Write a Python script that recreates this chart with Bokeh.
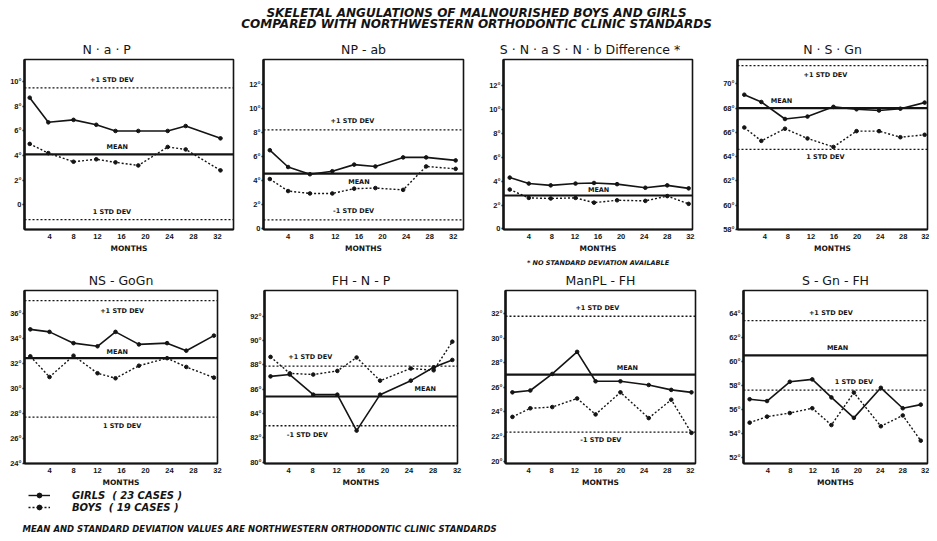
from bokeh.plotting import figure
from bokeh.models import Range1d, FixedTicker, Span, Label, Title, Legend, LegendItem
from bokeh.layouts import column, row
from bokeh.embed import file_html
from bokeh.resources import INLINE

INK = "#141414"
SANS = "DejaVu Sans"
TICKF = "Liberation Sans"

MAIN_TITLE_1 = "SKELETAL ANGULATIONS OF MALNOURISHED BOYS AND GIRLS"
MAIN_TITLE_2 = "COMPARED WITH NORTHWESTERN ORTHODONTIC CLINIC STANDARDS"
FOOTNOTE = "MEAN AND STANDARD DEVIATION VALUES ARE NORTHWESTERN ORTHODONTIC CLINIC STANDARDS"
NOTE_SNA = "* NO STANDARD DEVIATION AVAILABLE"
GIRLS_LABEL = "GIRLS  ( 23 CASES )"
BOYS_LABEL = "BOYS  ( 19 CASES )"
X_LABEL = "MONTHS"
MONTH_TICKS = [4, 8, 12, 16, 20, 24, 28, 32]

# ---- N-a-P
NAP_TITLE = "N · a · P"
NAP_MONTHS = [0.7, 3.8, 8.0, 11.8, 15.0, 18.8, 23.7, 26.7, 32.5]
NAP_GIRLS = [8.7, 6.7, 6.9, 6.5, 6.0, 6.0, 6.0, 6.4, 5.4]
NAP_BOYS = [4.95, 4.2, 3.5, 3.7, 3.45, 3.2, 4.7, 4.5, 2.8]
NAP_MEAN, NAP_SD_HI, NAP_SD_LO = 4.1, 9.5, -1.2
NAP_YTICKS = [0, 2, 4, 6, 8, 10]

# ---- NP-ab
NPAB_TITLE = "NP - ab"
NPAB_MONTHS = [0.9, 4.0, 7.7, 11.5, 15.2, 18.8, 23.5, 27.4, 32.4]
NPAB_GIRLS = [6.5, 5.1, 4.5, 4.75, 5.3, 5.15, 5.9, 5.9, 5.65]
NPAB_BOYS = [4.1, 3.1, 2.9, 2.9, 3.3, 3.35, 3.2, 5.15, 4.95]
NPAB_MEAN, NPAB_SD_HI, NPAB_SD_LO = 4.55, 8.2, 0.7
NPAB_YTICKS = [0, 2, 4, 6, 8, 10, 12]

# ---- SNa-SNb difference
SNAB_TITLE = "S · N · a   S · N · b   Difference *"
SNAB_MONTHS = [0.7, 4.0, 7.8, 12.1, 15.3, 19.3, 24.2, 28.0, 31.7]
SNAB_GIRLS = [4.3, 3.8, 3.65, 3.8, 3.85, 3.75, 3.45, 3.65, 3.4]
SNAB_BOYS = [3.3, 2.6, 2.55, 2.6, 2.2, 2.4, 2.35, 2.75, 2.1]
SNAB_MEAN = 2.8
SNAB_YTICKS = [0, 2, 4, 6, 8, 10, 12]

# ---- N-S-Gn
NSGN_TITLE = "N · S · Gn"
NSGN_MONTHS = [0.45, 3.4, 7.5, 11.4, 15.9, 19.9, 23.8, 27.5, 31.7]
NSGN_GIRLS = [69.1, 68.5, 67.1, 67.3, 68.1, 67.9, 67.8, 67.95, 68.45]
NSGN_BOYS = [66.4, 65.3, 66.3, 65.5, 64.8, 66.1, 66.1, 65.6, 65.8]
NSGN_MEAN, NSGN_SD_HI, NSGN_SD_LO = 68.0, 71.5, 64.6
NSGN_YTICKS = [58, 60, 62, 64, 66, 68, 70]

# ---- NS-GoGn
NSGO_TITLE = "NS - GoGn"
NSGO_MONTHS = [0.8, 4.0, 8.0, 12.0, 15.0, 18.9, 23.6, 26.8, 31.4]
NSGO_GIRLS = [34.7, 34.5, 33.6, 33.35, 34.5, 33.5, 33.6, 33.0, 34.2]
NSGO_BOYS = [32.55, 30.9, 32.6, 31.2, 30.8, 31.8, 32.4, 31.7, 30.85]
NSGO_MEAN, NSGO_SD_HI, NSGO_SD_LO = 32.4, 37.0, 27.7
NSGO_YTICKS = [24, 26, 28, 30, 32, 34, 36]

# ---- FH-N-P
FHNP_TITLE = "FH - N - P"
FHNP_MONTHS = [1.0, 4.2, 8.1, 12.1, 15.3, 19.2, 24.3, 28.1, 31.2]
FHNP_GIRLS = [87.05, 87.2, 85.55, 85.55, 82.6, 85.55, 86.7, 87.8, 88.4]
FHNP_BOYS = [88.65, 87.3, 87.2, 87.5, 88.6, 86.7, 87.7, 87.55, 89.9]
FHNP_MEAN, FHNP_SD_HI, FHNP_SD_LO = 85.4, 87.9, 83.0
FHNP_YTICKS = [80, 82, 84, 86, 88, 90, 92]

# ---- ManPL-FH
MPFH_TITLE = "ManPL - FH"
MPFH_MONTHS = [1.2, 4.3, 8.1, 12.4, 15.6, 19.9, 24.8, 28.7, 32.2]
MPFH_GIRLS = [25.6, 25.75, 27.1, 28.9, 26.5, 26.5, 26.2, 25.8, 25.6]
MPFH_BOYS = [23.6, 24.3, 24.4, 25.1, 23.8, 25.6, 23.5, 25.0, 22.3]
MPFH_MEAN, MPFH_SD_HI, MPFH_SD_LO = 27.05, 31.8, 22.35
MPFH_YTICKS = [20, 22, 24, 26, 28, 30, 32]

# ---- S-Gn-FH
SGFH_TITLE = "S - Gn - FH"
SGFH_MONTHS = [0.75, 3.85, 7.9, 11.9, 15.3, 19.3, 24.1, 28.0, 31.2]
SGFH_GIRLS = [56.85, 56.7, 58.3, 58.5, 57.0, 55.3, 57.8, 56.1, 56.4]
SGFH_BOYS = [54.9, 55.4, 55.7, 56.1, 54.7, 57.4, 54.6, 55.5, 53.4]
SGFH_MEAN, SGFH_SD_HI, SGFH_SD_LO = 60.5, 63.4, 57.6
SGFH_YTICKS = [52, 54, 56, 58, 60, 62, 64]


def make_panel(title, months, girls, boys, mean, sd_hi, sd_lo, yticks, xr, yr,
               fw, fh, bl, br, bt, bb, labels, title_left=None, note=None):
    p = figure(frame_width=fw, frame_height=fh, min_border_left=bl, min_border_right=br,
               min_border_top=bt, min_border_bottom=bb, x_range=Range1d(*xr),
               y_range=Range1d(*yr), output_backend="svg", toolbar_location=None)
    t = Title(text=title, text_font=SANS, text_font_size="12.5px", text_font_style="normal",
              text_color=INK, standoff=5)
    if title_left is not None:
        t.align = "left"
        t.offset = title_left
    else:
        t.align = "center"
    p.add_layout(t, "above")
    p.grid.visible = False
    p.outline_line_color = INK
    p.outline_line_width = 1.6
    p.background_fill_color = "white"
    p.border_fill_color = "white"

    xa = p.xaxis[0]
    xa.ticker = FixedTicker(ticks=MONTH_TICKS)
    xa.axis_line_color = INK
    xa.axis_line_width = 2
    xa.major_tick_in = 0
    xa.major_tick_out = 0
    xa.minor_tick_in = 0
    xa.minor_tick_out = 0
    xa.major_label_standoff = 4
    xa.major_label_text_font = TICKF
    xa.major_label_text_font_size = "7.5px"
    xa.major_label_text_font_style = "bold"
    xa.major_label_text_color = INK
    xa.axis_label = X_LABEL
    xa.axis_label_standoff = 2
    xa.axis_label_text_font = SANS
    xa.axis_label_text_font_size = "7.5px"
    xa.axis_label_text_font_style = "bold"
    xa.axis_label_text_color = INK

    ya = p.yaxis[0]
    ya.ticker = FixedTicker(ticks=yticks)
    ya.major_label_overrides = {v: ("0" if v == 0 else f"{v}°") for v in yticks}
    ya.axis_line_color = INK
    ya.axis_line_width = 2.5
    ya.major_tick_in = 0
    ya.major_tick_out = 2
    ya.major_tick_line_width = 1.5
    ya.major_tick_line_color = INK
    ya.minor_tick_in = 0
    ya.minor_tick_out = 0
    ya.major_label_standoff = 1
    ya.major_label_text_font = TICKF
    ya.major_label_text_font_size = "7.5px"
    ya.major_label_text_font_style = "bold"
    ya.major_label_text_color = INK

    levels = {"mean": mean, "hi": sd_hi, "lo": sd_lo}
    p.add_layout(Span(location=mean, dimension="width", line_color=INK, line_width=2.2))
    for lev in (sd_hi, sd_lo):
        if lev is not None:
            p.add_layout(Span(location=lev, dimension="width", line_color=INK,
                              line_width=1.3, line_dash="2 2"))

    p.line(months, girls, line_color=INK, line_width=1.6)
    p.scatter(months, girls, size=3.6, color=INK)
    p.line(months, boys, line_color=INK, line_width=1.4, line_dash="2 2")
    p.scatter(months, boys, size=3.6, color=INK)

    for text, xm, key, side, gap in labels:
        if side == "above":
            lab = Label(x=xm, y=levels[key], text=text, text_align="center",
                        text_baseline="bottom", y_offset=gap + 1)
        else:
            lab = Label(x=xm, y=levels[key], text=text, text_align="center",
                        text_baseline="top", y_offset=-(gap + 1))
        lab.text_font = SANS
        lab.text_font_size = "6.5px"
        lab.text_font_style = "bold"
        lab.text_color = INK
        p.add_layout(lab)

    if note is not None:
        p.add_layout(Title(text=note, align="center", text_font=SANS, text_font_size="6.5px",
                           text_font_style="bold italic", text_color=INK, standoff=2), "below")
    return p


R1 = dict(fh=170, bt=25, bb=39)
R2 = dict(fh=173, bt=22, bb=25)

p1 = make_panel(NAP_TITLE, NAP_MONTHS, NAP_GIRLS, NAP_BOYS, NAP_MEAN, NAP_SD_HI, NAP_SD_LO,
                NAP_YTICKS, (-0.17, 34.67), (-2.0, 11.8), fw=209, bl=24, br=5,
                labels=[("+1 STD DEV", 14.4, "hi", "above", 3), ("MEAN", 15.3, "mean", "above", 2),
                        ("1 STD DEV", 14.4, "lo", "above", 3)], title_left=58, **R1)
p2 = make_panel(NPAB_TITLE, NPAB_MONTHS, NPAB_GIRLS, NPAB_BOYS, NPAB_MEAN, NPAB_SD_HI, NPAB_SD_LO,
                NPAB_YTICKS, (-0.17, 33.73), (-0.1, 14.05), fw=200, bl=25, br=17,
                labels=[("+1 STD DEV", 14.9, "hi", "above", 4), ("MEAN", 16.0, "mean", "below", 3),
                        ("-1 STD DEV", 15.1, "lo", "above", 4)], **R1)
p3 = make_panel(SNAB_TITLE, SNAB_MONTHS, SNAB_GIRLS, SNAB_BOYS, SNAB_MEAN, None, None,
                SNAB_YTICKS, (-0.38, 32.37), (-0.05, 14.2), fw=189, bl=23, br=20,
                labels=[("MEAN", 16.1, "mean", "above", 1)], note=NOTE_SNA, **R1)
p4 = make_panel(NSGN_TITLE, NSGN_MONTHS, NSGN_GIRLS, NSGN_BOYS, NSGN_MEAN, NSGN_SD_HI, NSGN_SD_LO,
                NSGN_YTICKS, (-0.73, 32.2), (58, 72), fw=190, bl=25, br=2,
                labels=[("+1 STD DEV", 14.5, "hi", "below", 4), ("MEAN", 6.9, "mean", "above", 2),
                        ("1 STD DEV", 14.5, "lo", "below", 3)], **R1)

p5 = make_panel(NSGO_TITLE, NSGO_MONTHS, NSGO_GIRLS, NSGO_BOYS, NSGO_MEAN, NSGO_SD_HI, NSGO_SD_LO,
                NSGO_YTICKS, (-0.17, 32.0), (24, 37.8), fw=193, bl=24, br=13,
                labels=[("+1 STD DEV", 16.1, "hi", "below", 5), ("MEAN", 15.3, "mean", "above", 1),
                        ("1 STD DEV", 16.1, "lo", "below", 4)], **R2)
p6 = make_panel(FHNP_TITLE, FHNP_MONTHS, FHNP_GIRLS, FHNP_BOYS, FHNP_MEAN, FHNP_SD_HI, FHNP_SD_LO,
                FHNP_YTICKS, (0, 32.06), (79.9, 94.1), fw=193, bl=34, br=10,
                labels=[("+1 STD DEV", 7.6, "hi", "above", 4), ("MEAN", 26.7, "mean", "above", 2),
                        ("-1 STD DEV", 7.1, "lo", "below", 4)], **R2)
p7 = make_panel(MPFH_TITLE, MPFH_MONTHS, MPFH_GIRLS, MPFH_BOYS, MPFH_MEAN, MPFH_SD_HI, MPFH_SD_LO,
                MPFH_YTICKS, (0, 32.9), (19.8, 33.9), fw=190, bl=38, br=23,
                labels=[("+1 STD DEV", 15.9, "hi", "above", 3), ("MEAN", 21.1, "mean", "above", 2),
                        ("-1 STD DEV", 16.5, "lo", "below", 3)], **R2)
p8 = make_panel(SGFH_TITLE, SGFH_MONTHS, SGFH_GIRLS, SGFH_BOYS, SGFH_MEAN, SGFH_SD_HI, SGFH_SD_LO,
                SGFH_YTICKS, (-0.34, 32.4), (51.5, 65.9), fw=184, bl=25, br=2,
                labels=[("+1 STD DEV", 15.2, "hi", "above", 3), ("MEAN", 16.4, "mean", "above", 2),
                        ("1 STD DEV", 19.3, "lo", "above", 3)], **R2)

W = 929


def blank(h):
    f = figure(width=W, height=h, x_range=Range1d(0, W), y_range=Range1d(h, 0), min_border=0,
               x_axis_location=None, y_axis_location=None, output_backend="svg",
               toolbar_location=None)
    f.grid.visible = False
    f.outline_line_color = None
    f.background_fill_color = "white"
    f.border_fill_color = "white"
    return f


header = blank(34)
for txt, yc in ((MAIN_TITLE_1, 12.3), (MAIN_TITLE_2, 23.8)):
    header.add_layout(Label(x=476, y=yc, text=txt, text_align="center", text_baseline="middle",
                            text_font=SANS, text_font_size="12px",
                            text_font_style="bold italic", text_color=INK))

footer = blank(45)
# legend-only renderers: their single point lies outside the visible range
gl = footer.line(x=[-50, -40], y=[-50, -50], line_color=INK, line_width=1.4)
gp = footer.scatter(x=[-50], y=[-50], size=3.6, color=INK)
bln = footer.line(x=[-50, -40], y=[-50, -50], line_color=INK, line_width=1.3, line_dash="2 2")
bp = footer.scatter(x=[-50], y=[-50], size=3.6, color=INK)
legend = Legend(items=[LegendItem(label=GIRLS_LABEL, renderers=[gl, gp]),
                       LegendItem(label=BOYS_LABEL, renderers=[bln, bp])],
                location=(28, 21), orientation="vertical", padding=0, margin=0, spacing=0,
                glyph_width=22, glyph_height=12, label_height=12, label_standoff=22,
                label_text_font=SANS, label_text_font_size="10px",
                label_text_font_style="bold italic", label_text_color=INK,
                border_line_color=None, background_fill_alpha=0)
footer.add_layout(legend)
footer.add_layout(Label(x=22, y=39, text=FOOTNOTE, text_align="left", text_baseline="middle",
                        text_font=SANS, text_font_size="8.5px", text_font_style="bold italic",
                        text_color=INK))

layout = column(header, row(p1, p2, p3, p4), row(p5, p6, p7, p8), footer)

open("out.html", "w").write(file_html(layout, INLINE))
